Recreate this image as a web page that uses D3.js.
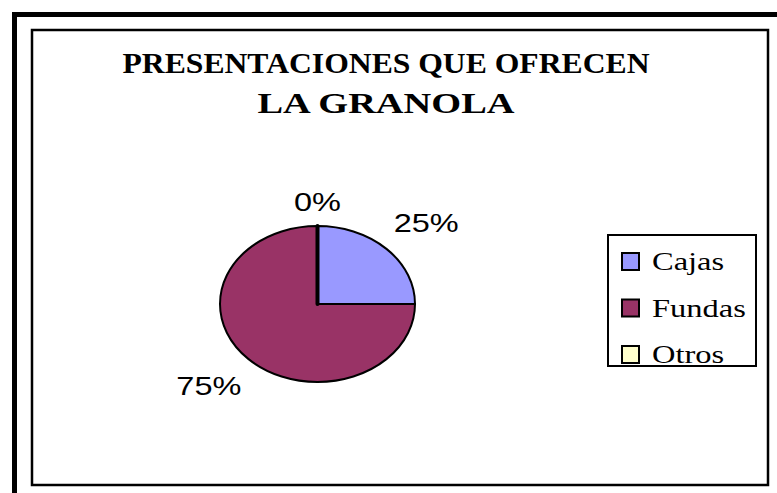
<!DOCTYPE html>
<html>
<head>
<meta charset="utf-8">
<script src="https://cdn.jsdelivr.net/npm/d3@7"></script>
<style>
  body { margin: 0; background: #fff; }
  svg { display: block; }
</style>
</head>
<body>
<script>
// data
var categories = ['Cajas', 'Fundas', 'Otros'];
var values = [25, 75, 0];
var colors = ['#9999FF', '#993366', '#FFFFCC'];
var titleLines = ['PRESENTACIONES QUE OFRECEN', 'LA GRANOLA'];

var width = 777, height = 493;
var stretch = 1.25; // the original picture is squeezed wider than tall

var svg = d3.select('body').append('svg')
  .attr('width', width).attr('height', height);

// outer heavy frame, runs off the right and bottom edges
svg.append('path')
  .attr('d', 'M14.5,' + (height + 10) + 'V14.5H' + (width + 10))
  .attr('fill', 'none').attr('stroke', '#000').attr('stroke-width', 5);

// chart box
svg.append('rect')
  .attr('x', 32).attr('y', 30).attr('width', 736).attr('height', 455)
  .attr('fill', '#fff').attr('stroke', '#000').attr('stroke-width', 2.5);

// title
svg.selectAll('text.title')
  .data(titleLines)
  .enter().append('text')
  .attr('class', 'title')
  .attr('x', 386)
  .attr('y', function (d, i) { return 73 + i * 40; })
  .attr('text-anchor', 'middle')
  .attr('font-family', 'Liberation Serif, Times New Roman, serif')
  .attr('font-weight', 'bold')
  .attr('font-size', 29)
  .attr('textLength', function (d, i) { return i === 0 ? 527 : 257; })
  .attr('lengthAdjust', 'spacingAndGlyphs')
  .text(function (d) { return d; });

// pie
var cx = 317.5, cy = 304, r = 78;
var total = d3.sum(values);
var pie = d3.pie().sort(null).value(function (d) { return d; });
var arcs = pie(values);
var arc = d3.arc().innerRadius(0).outerRadius(r);

var pieG = svg.append('g')
  .attr('transform', 'translate(' + cx + ',' + cy + ') scale(' + stretch + ',1)');

pieG.selectAll('path')
  .data(arcs)
  .enter().append('path')
  .attr('d', arc)
  .attr('fill', function (d, i) { return colors[i]; })
  .attr('stroke', '#000')
  .attr('stroke-width', function (d) { return d.value === 0 ? 4 : 2; })
  .attr('stroke-linejoin', 'round')
  .attr('vector-effect', 'non-scaling-stroke');

// percentage labels placed outside the pie
var labelR = 72, halfW = 45, halfH = 31;
var pct = d3.format('.0%');
svg.selectAll('text.lbl')
  .data(arcs)
  .enter().append('text')
  .attr('class', 'lbl')
  .attr('transform', function (d) {
    var a = (d.startAngle + d.endAngle) / 2;
    var s = Math.sin(a), c = Math.cos(a);
    var sx = Math.abs(s) < 0.01 ? 0 : Math.sign(s);
    var sy = Math.abs(c) < 0.01 ? 0 : Math.sign(c);
    var x = cx + s * labelR * stretch + sx * halfW;
    var y = cy - c * labelR - sy * halfH + 9.5;
    return 'translate(' + x + ',' + y + ') scale(' + stretch + ',1)';
  })
  .attr('text-anchor', 'middle')
  .attr('font-family', 'Liberation Sans, Arial, sans-serif')
  .attr('font-size', 26)
  .text(function (d) { return pct(d.value / total); });

// legend
var legend = svg.append('g');
legend.append('rect')
  .attr('x', 608).attr('y', 235).attr('width', 148).attr('height', 131)
  .attr('fill', '#fff').attr('stroke', '#000').attr('stroke-width', 2);

var rowY = d3.scalePoint().domain(categories).range([270, 363]);

var items = legend.selectAll('g.item')
  .data(categories)
  .enter().append('g')
  .attr('class', 'item')
  .attr('transform', function (d) { return 'translate(0,' + rowY(d) + ')'; });

items.append('rect')
  .attr('x', 622).attr('y', -17).attr('width', 17).attr('height', 17)
  .attr('fill', function (d, i) { return colors[i]; })
  .attr('stroke', '#000').attr('stroke-width', 2);

items.append('text')
  .attr('transform', 'translate(652,0) scale(' + stretch + ',1)')
  .attr('font-family', 'Liberation Serif, Times New Roman, serif')
  .attr('font-size', 26)
  .text(function (d) { return d; });
</script>
</body>
</html>
